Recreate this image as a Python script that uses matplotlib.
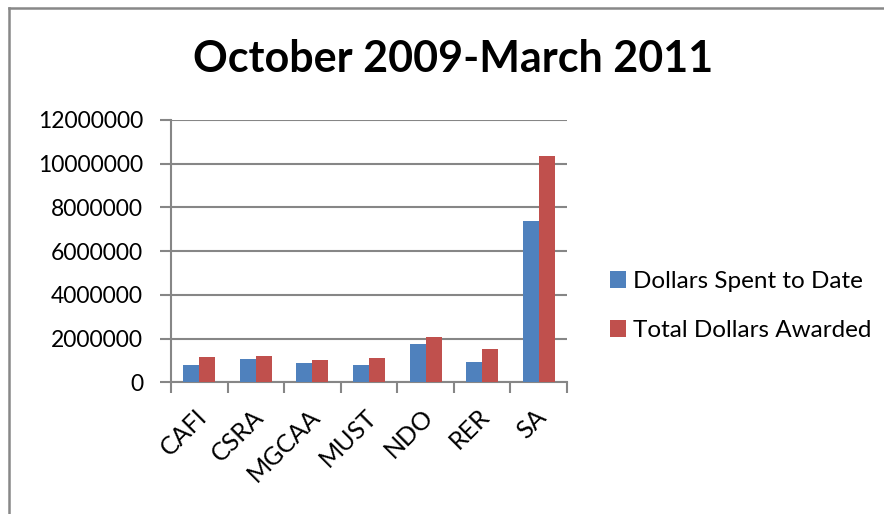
import matplotlib
matplotlib.use("Agg")
import matplotlib.pyplot as plt
from matplotlib.lines import Line2D
from matplotlib.patches import Patch
import matplotlib.transforms as mtransforms
import numpy as np

categories = ["CAFI", "CSRA", "MGCAA", "MUST", "NDO", "RER", "SA"]
spent = [780000, 1070000, 870000, 780000, 1770000, 930000, 7390000]
awarded = [1150000, 1200000, 1020000, 1110000, 2070000, 1510000, 10350000]
series_names = ["Dollars Spent to Date", "Total Dollars Awarded"]
title = "October 2009-March 2011"

plt.rcParams['font.family'] = ['Lato', 'DejaVu Sans']
W, H = 884, 514
fig = plt.figure(figsize=(W/100, H/100), dpi=100)
ax = fig.add_axes([171/W, 1-382.3/H, 396/W, (382.3-120)/H])

gray = "#868686"
blue = "#4F81BD"
red = "#C0504D"
x = np.arange(len(categories))
w = 0.283
ax.bar(x - w/2, spent, width=w, color=blue, zorder=3)
ax.bar(x + w/2, awarded, width=w, color=red, zorder=3)

ax.set_xlim(-0.5, len(categories) - 0.5)
ax.set_ylim(0, 12000000)
ax.set_yticks(np.arange(0, 12000001, 2000000))
ax.set_yticklabels([str(v) for v in range(0, 12000001, 2000000)], fontsize=16.5)
ax.yaxis.grid(True, color=gray, linewidth=1.5, zorder=0)
ax.set_axisbelow(True)

ax.set_xticks(x)
ax.set_xticklabels(categories, rotation=45, ha='right', va='center', rotation_mode='anchor', fontsize=18)
ax.set_xticks(np.arange(-0.5, len(categories)), minor=True)
ax.tick_params(axis='x', which='major', length=0, pad=22)
ax.tick_params(axis='x', which='minor', length=8, width=1.5, color=gray, direction='out')
ax.tick_params(axis='y', length=8, width=1.5, color=gray, direction='out', pad=12)
offset = mtransforms.ScaledTranslation(4/100, 0, fig.dpi_scale_trans)
for lab in ax.get_xticklabels():
    lab.set_transform(lab.get_transform() + offset)

for s in ['top', 'right']:
    ax.spines[s].set_visible(False)
for s in ['left', 'bottom']:
    ax.spines[s].set_color(gray)
    ax.spines[s].set_linewidth(1.5)

fig.text(453/W, 1-59/H, title, fontsize=31, fontweight='bold', ha='center', va='center')

handles = [Patch(facecolor=blue, label=series_names[0]), Patch(facecolor=red, label=series_names[1])]
fig.legend(handles=handles, loc='center left', bbox_to_anchor=(588/W, 1-306/H), frameon=False,
           fontsize=17.5, handlelength=0.65, handleheight=0.65, handletextpad=0.3, labelspacing=1.15)

fig.add_artist(Line2D([8.5/W, 8.5/W], [0, 1-7.5/H], color="#888888", linewidth=1.8))
fig.add_artist(Line2D([8.5/W, 1], [1-7.5/H, 1-7.5/H], color="#888888", linewidth=1.8))

fig.savefig("out.png", dpi=100)
